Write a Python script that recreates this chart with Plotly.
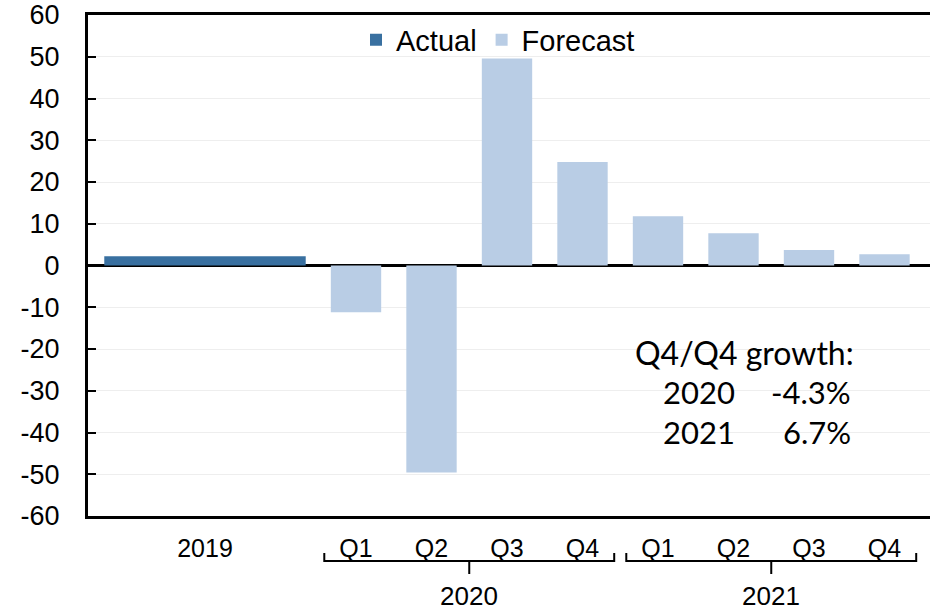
import plotly.graph_objects as go

# ---- data ----
actual_label = ["2019"]
actual_values = [2.2]
quarter_labels = ["Q1", "Q2", "Q3", "Q4", "Q1", "Q2", "Q3", "Q4"]
forecast_values = [-11.2, -49.6, 49.6, 24.8, 11.8, 7.7, 3.7, 2.7]
year_groups = ["2020", "2021"]
growth_years = ["2020", "2021"]
growth_values = ["-4.3%", "6.7%"]
y_ticks = list(range(-60, 61, 10))
y_tick_text = [str(v) for v in y_ticks]

# ---- layout helpers ----
W, H = 930, 610
ML, MR, MT, MB = 88, 0, 15, 94
PW, PH = W - ML - MR, H - MT - MB

def px_to_paper_x(px):
    return (px - ML) / PW

def px_to_paper_y(py):
    return (H - MB - py) / PH

q_pos = list(range(len(quarter_labels)))
actual_pos = [-2]
slot_px = 75.5
x_left = -(356 - ML) / slot_px
x_range = [x_left, x_left + PW / slot_px]
bar_w = 0.667

fig = go.Figure()
fig.add_trace(go.Bar(
    x=actual_pos, y=actual_values, width=[bar_w * 4], name="Actual",
    marker=dict(color="#3970A0", line=dict(width=0)),
))
fig.add_trace(go.Bar(
    x=q_pos, y=forecast_values, width=bar_w, name="Forecast",
    marker=dict(color="#B9CDE5", line=dict(width=0)),
))

font_main = "Liberation Sans, Arial, sans-serif"

# braces under the quarter labels
shapes = []
annotations = []
y_top = px_to_paper_y(553)
y_h = px_to_paper_y(561)
y_bot = px_to_paper_y(574)
half = 1.92
for gi, yr in enumerate(year_groups):
    qs = q_pos[gi * 4:(gi + 1) * 4]
    xc = sum(qs) / len(qs)
    x0, x1 = xc - half, xc + half
    shapes.append(dict(
        type="path", xref="x", yref="paper",
        path=f"M {x0},{y_top} L {x0},{y_h} L {x1},{y_h} L {x1},{y_top} M {xc},{y_h} L {xc},{y_bot}",
        line=dict(color="black", width=2),
    ))
    annotations.append(dict(
        x=xc, xref="x", y=px_to_paper_y(596), yref="paper",
        text=yr, showarrow=False, font=dict(family=font_main, size=26, color="black"),
        xanchor="center", yanchor="middle",
    ))

font_note = "Lato, Open Sans, sans-serif"
note_size = 31
annotations.append(dict(
    x=px_to_paper_x(856), y=px_to_paper_y(352), xref="paper", yref="paper",
    text="Q4/Q4 growth:", showarrow=False, xanchor="right", yanchor="middle",
    font=dict(family=font_note, size=32, color="black"),
))
for i, (yr, val) in enumerate(zip(growth_years, growth_values)):
    py = 392 + 40 * i
    annotations.append(dict(
        x=px_to_paper_x(661), y=px_to_paper_y(py), xref="paper", yref="paper",
        text=yr, showarrow=False, xanchor="left", yanchor="middle",
        font=dict(family=font_note, size=note_size, color="black"),
    ))
    annotations.append(dict(
        x=px_to_paper_x(853), y=px_to_paper_y(py), xref="paper", yref="paper",
        text=val, showarrow=False, xanchor="right", yanchor="middle",
        font=dict(family=font_note, size=note_size, color="black"),
    ))

fig.update_layout(
    width=W, height=H,
    margin=dict(l=ML, r=MR, t=MT, b=MB, pad=0, autoexpand=False),
    paper_bgcolor="white", plot_bgcolor="white",
    barmode="overlay",
    showlegend=True,
    legend=dict(
        orientation="h", x=px_to_paper_x(498), xanchor="center",
        y=px_to_paper_y(40), yanchor="middle",
        font=dict(family=font_main, size=29, color="black"),
        bgcolor="rgba(0,0,0,0)", itemwidth=30,
    ),
    shapes=shapes,
    annotations=annotations,
    xaxis=dict(
        range=x_range, tickmode="array",
        tickvals=actual_pos + q_pos, ticktext=actual_label + quarter_labels,
        tickfont=dict(family=font_main, size=25, color="black"),
        showgrid=False, zeroline=False, ticks="",
        showline=True, linecolor="black", linewidth=3, mirror=True,
        ticklabelstandoff=8, automargin=False,
    ),
    yaxis=dict(
        range=[-60, 60], tickmode="array", tickvals=y_ticks, ticktext=y_tick_text,
        tickfont=dict(family=font_main, size=27, color="black"),
        showgrid=True, gridcolor="#EEEEEE", gridwidth=1,
        zeroline=True, zerolinecolor="black", zerolinewidth=3,
        showline=True, linecolor="black", linewidth=3,
        ticks="inside", ticklen=8, tickwidth=2, tickcolor="black",
        ticklabelstandoff=20, automargin=False,
    ),
)

fig.write_html(
    "out.html",
    config={"displayModeBar": False},
    post_script="document.body.style.margin='0';document.body.style.overflow='hidden';",
)
